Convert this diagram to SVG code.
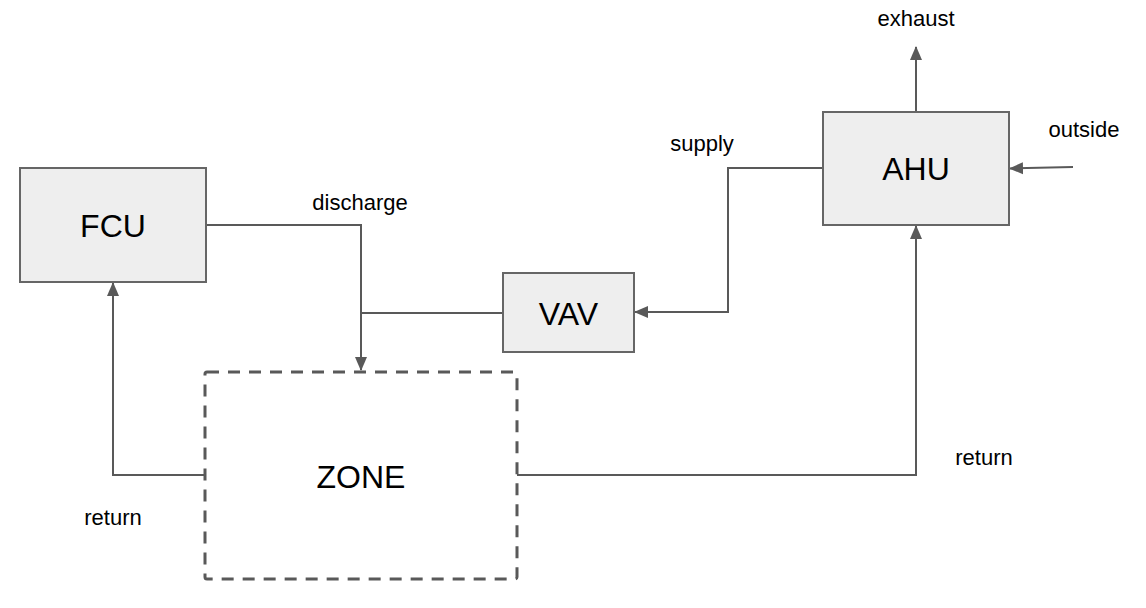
<svg xmlns="http://www.w3.org/2000/svg" width="1146" height="608" viewBox="0 0 1146 608">
<style>
.box{fill:#eeeeee;stroke:#666666;stroke-width:2}
.zone{fill:none;stroke:#595959;stroke-width:3;stroke-dasharray:12 9}
.big{font-family:"Liberation Sans",Arial,sans-serif;font-size:32px;fill:#000;text-anchor:middle}
.lbl{font-family:"Liberation Sans",Arial,sans-serif;font-size:22px;fill:#000;text-anchor:middle}
.ln{fill:none;stroke:#595959;stroke-width:2}
</style>
<defs>
<marker id="ah" markerUnits="userSpaceOnUse" markerWidth="14" markerHeight="14" viewBox="0 0 14 14" refX="13" refY="7" orient="auto">
<path d="M0,1 L14,7 L0,13 Z" fill="#595959"/>
</marker>
</defs>
<rect width="1146" height="608" fill="#ffffff"/>
<g id="connectors">
<path class="ln" d="M206,225 H361 V370" marker-end="url(#ah)"/>
<path class="ln" d="M361,313 H503"/>
<path class="ln" d="M823,168 H728 V312 H635" marker-end="url(#ah)"/>
<path class="ln" d="M916,112 V47" marker-end="url(#ah)"/>
<path class="ln" d="M1073,167 L1010,168.5" marker-end="url(#ah)"/>
<path class="ln" d="M205,475 H113 V283" marker-end="url(#ah)"/>
<path class="ln" d="M517,475 H916 V226" marker-end="url(#ah)"/>
</g>
<g id="labels">
<text class="lbl" x="360" y="210">discharge</text>
<text class="lbl" x="702" y="151">supply</text>
<text class="lbl" x="916" y="26">exhaust</text>
<text class="lbl" x="1084" y="137">outside</text>
<text class="lbl" x="113" y="525">return</text>
<text class="lbl" x="984" y="465">return</text>
</g>
<g id="FCU">
<rect class="box" x="20" y="168" width="186" height="114"/>
<text class="big" x="113" y="236.5">FCU</text>
</g>
<g id="VAV">
<rect class="box" x="503" y="273" width="131" height="79"/>
<text class="big" x="568.5" y="325">VAV</text>
</g>
<g id="AHU">
<rect class="box" x="823" y="112" width="186" height="113"/>
<text class="big" x="916" y="180">AHU</text>
</g>
<g id="ZONE">
<rect class="zone" x="205" y="372" width="312" height="207" rx="2"/>
<text class="big" x="361" y="488">ZONE</text>
</g>
</svg>
